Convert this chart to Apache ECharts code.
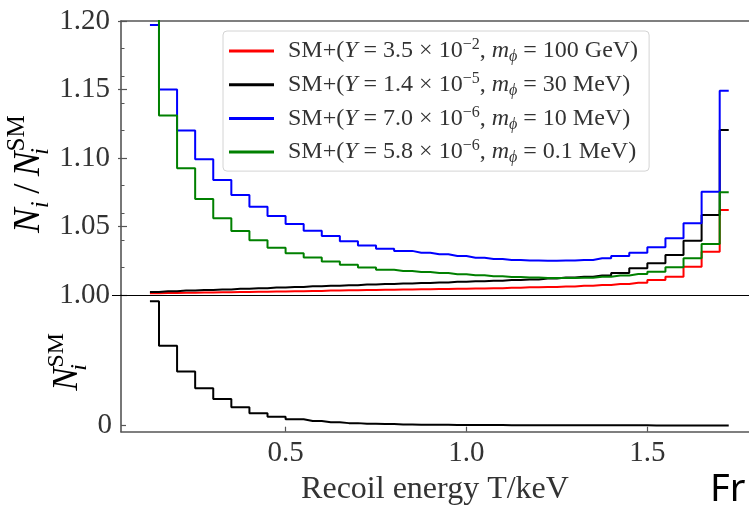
<!DOCTYPE html>
<html>
<head>
<meta charset="utf-8">
<script src="https://cdn.jsdelivr.net/npm/echarts@6/dist/echarts.min.js"></script>
<style>
html, body { margin: 0; padding: 0; background: #fff; }
#chart { width: 749px; height: 505px; }
</style>
</head>
<body>
<div id="chart"></div>
<script>
// Recoil-energy bin centres (keV)
const energies = [0.125, 0.175, 0.225, 0.275, 0.325, 0.375, 0.425, 0.475, 0.525, 0.575, 0.625,
  0.675, 0.725, 0.775, 0.825, 0.875, 0.925, 0.975, 1.025, 1.075, 1.125, 1.175, 1.225, 1.275,
  1.325, 1.375, 1.425, 1.475, 1.525, 1.575, 1.625, 1.675, 1.725];

// Ratio N_i / N_i^SM for each new-physics benchmark
const ratioRed = [1.0012, 1.0014, 1.0016, 1.0018, 1.0020, 1.0022, 1.0024, 1.0026, 1.0028, 1.0030,
  1.0032, 1.0034, 1.0036, 1.0038, 1.0040, 1.0042, 1.0044, 1.0046, 1.0048, 1.0050, 1.0053, 1.0056,
  1.0059, 1.0062, 1.0067, 1.0073, 1.0080, 1.0090, 1.0110, 1.0134, 1.0207, 1.0316, 1.062];
const ratioBlack = [1.0022, 1.0027, 1.0032, 1.0037, 1.0041, 1.0046, 1.0050, 1.0055, 1.0059, 1.0063,
  1.0068, 1.0072, 1.0076, 1.0080, 1.0084, 1.0088, 1.0092, 1.0096, 1.0100, 1.0104, 1.0109, 1.0114,
  1.0120, 1.0127, 1.0134, 1.0143, 1.0160, 1.0195, 1.0231, 1.0292, 1.0396, 1.0584, 1.1204];
const ratioBlue = [1.197, 1.150, 1.120, 1.099, 1.084, 1.073, 1.0645, 1.0577, 1.0518, 1.0469, 1.0431,
  1.0392, 1.0362, 1.0338, 1.0322, 1.0309, 1.0297, 1.0284, 1.0272, 1.0263, 1.0256, 1.0252, 1.0250,
  1.0251, 1.0256, 1.0268, 1.0285, 1.0309, 1.0348, 1.0414, 1.0523, 1.0754, 1.149];
const ratioGreen = [1.215, 1.131, 1.0925, 1.070, 1.056, 1.0467, 1.040, 1.0345, 1.0305, 1.0273, 1.0244,
  1.0220, 1.0200, 1.0184, 1.0176, 1.0168, 1.0160, 1.0152, 1.0144, 1.0137, 1.0131, 1.0127, 1.0124,
  1.0124, 1.0126, 1.0133, 1.0142, 1.0153, 1.0170, 1.0202, 1.0268, 1.0372, 1.075];

// Standard-model spectrum, normalised to the first bin
const smSpectrum = [1.0, 0.641, 0.434, 0.300, 0.2135, 0.147, 0.098, 0.071, 0.050, 0.036, 0.026,
  0.019, 0.014, 0.011, 0.0085, 0.0068, 0.0055, 0.0045, 0.0037, 0.0031, 0.0026, 0.0022, 0.0019,
  0.0016, 0.0014, 0.0012, 0.0010, 0.0009, 0.0008, 0.0007, 0.0006, 0.0005, 0.0004];

// Benchmark parameters (legend)
const couplings = ['3.5', '1.4', '7.0', '5.8'];
const exponents = ['\u22122', '\u22125', '\u22126', '\u22126'];
const masses = ['100 GeV', '30 MeV', '10 MeV', '0.1 MeV'];
const lineColors = ['#ff0000', '#000000', '#0000ff', '#008000'];

// Tick values
const ratioTicks = [1.00, 1.05, 1.10, 1.15, 1.20];
const energyTicks = [0.5, 1.0, 1.5];
const spectrumTicks = [0];

const SERIF = 'Liberation Serif';
const AXIS_GREY = '#555';
const TEXT = '#333';

const ratios = [ratioRed, ratioBlack, ratioBlue, ratioGreen];
const names = couplings.map((c, i) => `SM+(Y = ${c} \u00d7 10${exponents[i]}, m\u03d5 = ${masses[i]})`);

const pairs = arr => energies.map((e, i) => [e, arr[i]]);

const series = ratios.map((arr, i) => ({
  name: names[i],
  type: 'line',
  xAxisIndex: 0,
  yAxisIndex: 0,
  step: 'middle',
  showSymbol: false,
  symbol: 'none',
  color: lineColors[i],
  lineStyle: { width: 2, color: lineColors[i] },
  data: pairs(arr),
  clip: true,
  z: 3 + i,
  markLine: i === 0 ? {
    silent: true, symbol: 'none', label: { show: false },
    lineStyle: { color: '#000', width: 1, type: 'solid' },
    emphasis: { disabled: true },
    data: [{ yAxis: 1 }]
  } : undefined
}));

series.push({
  name: 'SM',
  type: 'line',
  xAxisIndex: 1,
  yAxisIndex: 2,
  step: 'middle',
  showSymbol: false,
  symbol: 'none',
  color: '#000',
  lineStyle: { width: 2, color: '#000' },
  data: pairs(smSpectrum),
  clip: true
});

const LF = 24;   // legend font size
const LH = 28;   // legend line height
const legendRich = {
  g: { width: 9, fontSize: LF, lineHeight: LH },
  r: { fontFamily: SERIF, fontSize: LF, lineHeight: LH, color: TEXT },
  it: { fontFamily: SERIF, fontStyle: 'italic', fontSize: LF, lineHeight: LH, color: TEXT },
  sup: { fontFamily: SERIF, fontSize: 16, lineHeight: 16, verticalAlign: 'top', color: TEXT },
  sub: { fontFamily: SERIF, fontStyle: 'italic', fontSize: 16, lineHeight: 16, verticalAlign: 'bottom', color: TEXT }
};

function legendLabel(name) {
  const i = names.indexOf(name);
  return `{g| }{r|SM+(}{it|Y}{r| = ${couplings[i]} \u00d7 10}{sup|${exponents[i]}}{r|, }` +
    `{it|m}{sub|\u03d5}{r| = ${masses[i]})}`;
}

const titleRich = (size) => ({
  n: { fontFamily: SERIF, fontStyle: 'italic', fontSize: size, lineHeight: size + 12, color: TEXT },
  sl: { fontFamily: SERIF, fontSize: size, lineHeight: size + 12, color: TEXT },
  sub: { fontFamily: SERIF, fontStyle: 'italic', fontSize: size * 0.68, lineHeight: size * 0.68, verticalAlign: 'bottom', color: TEXT },
  subz: { fontFamily: SERIF, fontStyle: 'italic', fontSize: size * 0.68, lineHeight: size * 0.68, width: 0, verticalAlign: 'bottom', color: TEXT },
  up: { fontFamily: SERIF, fontSize: size * 0.68, lineHeight: size * 0.68, verticalAlign: 'top', color: TEXT }
});

const chart = echarts.init(document.getElementById('chart'), null, { renderer: 'canvas' });

// plot area runs past the right edge of the canvas; the axis max is the value at x = 749
const X_MIN = 0.045;
const X_MAX = 1.781;

chart.setOption({
  animation: false,
  backgroundColor: '#fff',
  grid: [
    { left: 121, top: 21, right: 0, height: 274 },
    { left: 121, top: 295, right: 0, height: 136.7 }
  ],
  xAxis: [
    {
      gridIndex: 0, type: 'value', min: X_MIN, max: X_MAX, position: 'top',
      axisLine: { show: true, onZero: false, lineStyle: { color: AXIS_GREY, width: 1.6 } },
      axisTick: { show: false }, axisLabel: { show: false }, splitLine: { show: false }
    },
    {
      gridIndex: 1, type: 'value', min: X_MIN, max: X_MAX, position: 'bottom',
      axisLine: { show: true, onZero: false, lineStyle: { color: AXIS_GREY, width: 1.6 } },
      axisTick: { show: true, inside: true, length: 5, customValues: energyTicks, lineStyle: { color: AXIS_GREY, width: 1.2 } },
      axisLabel: { customValues: energyTicks, formatter: v => v.toFixed(1), fontFamily: SERIF, fontSize: 29, color: TEXT, margin: 7 },
      splitLine: { show: false }
    }
  ],
  yAxis: [
    {
      gridIndex: 0, type: 'value', min: 1.0, max: 1.2, interval: 0.05, position: 'left',
      axisLine: { show: true, onZero: false, lineStyle: { color: AXIS_GREY, width: 1.6 } },
      axisTick: { show: true, inside: true, length: 6, lineStyle: { color: AXIS_GREY, width: 1.2 } },
      axisLabel: { formatter: v => v.toFixed(2), fontFamily: SERIF, fontSize: 29, color: TEXT, margin: 11,
        customValues: ratioTicks },
      splitLine: { show: false }
    },
    {
      // minor ticks every 0.02
      gridIndex: 0, type: 'value', min: 1.0, max: 1.2, interval: 0.02, position: 'left',
      axisLine: { show: false, onZero: false },
      axisTick: { show: true, inside: true, length: 3.5, lineStyle: { color: AXIS_GREY, width: 1 } },
      axisLabel: { show: false }, splitLine: { show: false }
    },
    {
      gridIndex: 1, type: 'value', min: -0.05, max: 1.05, position: 'left',
      axisLine: { show: true, onZero: false, lineStyle: { color: AXIS_GREY, width: 1.6 } },
      axisTick: { show: true, inside: true, length: 5, customValues: spectrumTicks, lineStyle: { color: AXIS_GREY, width: 1.2 } },
      axisLabel: { customValues: spectrumTicks, formatter: v => String(v), fontFamily: SERIF, fontSize: 29, color: TEXT, margin: 9 },
      splitLine: { show: false }
    },
    {
      // outer half of the major ticks
      gridIndex: 0, type: 'value', min: 1.0, max: 1.2, position: 'left',
      axisLine: { show: false, onZero: false },
      axisTick: { show: true, inside: false, length: 3, customValues: [1.05, 1.10, 1.15, 1.20], lineStyle: { color: AXIS_GREY, width: 1.2 } },
      axisLabel: { show: false }, splitLine: { show: false }
    },
    {
      // reference level 1.00 continues past the spine
      gridIndex: 0, type: 'value', min: 1.0, max: 1.2, position: 'left',
      axisLine: { show: false, onZero: false },
      axisTick: { show: true, inside: false, length: 9, customValues: [1.00], lineStyle: { color: '#000', width: 1 } },
      axisLabel: { show: false }, splitLine: { show: false }
    }
  ],
  legend: {
    data: names,
    orient: 'vertical',
    left: 223,
    top: 31,
    padding: [6, 11, 5, 6],
    itemGap: 5.7,
    itemWidth: 45,
    itemHeight: 3,
    icon: 'rect',
    borderColor: '#d4d4d4',
    borderWidth: 1,
    borderRadius: 4,
    backgroundColor: 'rgba(255,255,255,0.85)',
    selectedMode: false,
    formatter: legendLabel,
    textStyle: { rich: legendRich }
  },
  graphic: [
    {
      type: 'text', x: 29, y: 174, rotation: Math.PI / 2,
      style: { text: '{n|N}{sub|i}{sl|\u2009/\u2009}{n|N}{subz|i}{up|SM}', rich: titleRich(37), align: 'center', verticalAlign: 'middle' }
    },
    {
      type: 'text', x: 68, y: 362, rotation: Math.PI / 2,
      style: { text: '{n|N}{subz|i}{up|SM}', rich: titleRich(35), align: 'center', verticalAlign: 'middle' }
    },
    {
      type: 'text', x: 435, y: 490,
      style: { text: 'Recoil energy T/keV', font: `32px "${SERIF}"`, fill: TEXT, align: 'center', verticalAlign: 'middle' }
    },
    {
      type: 'text', x: 710, y: 490,
      style: { text: 'Fr', font: '38px "Noto Sans"', fill: '#000', align: 'left', verticalAlign: 'middle' }
    }
  ],
  series: series
});
</script>
</body>
</html>
